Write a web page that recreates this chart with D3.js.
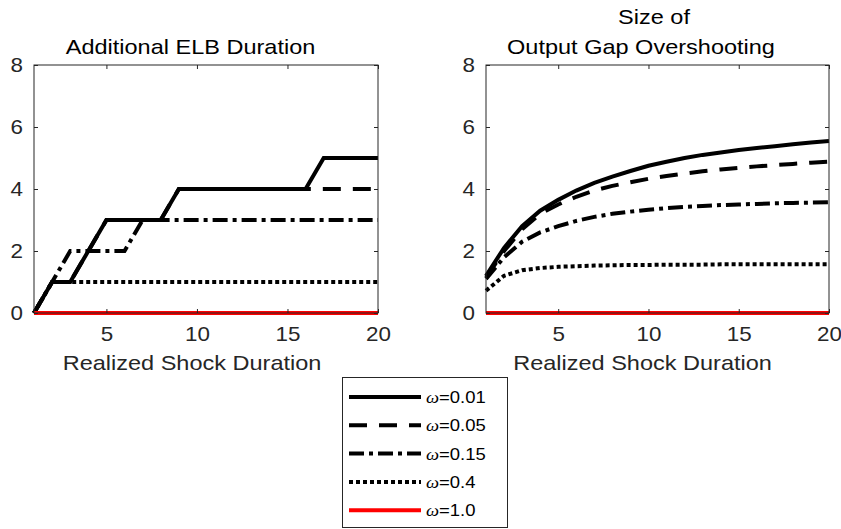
<!DOCTYPE html>
<html><head><meta charset="utf-8">
<script src="https://cdn.jsdelivr.net/npm/d3@7"></script>
<style>
body{margin:0;background:#fff;}
text{font-family:"Liberation Sans",Arial,Helvetica,sans-serif;fill:#262626;}
</style></head>
<body><svg id="c" width="841" height="529"></svg>
<script>
const xVals = d3.range(1, 21);
const omegaLabels = ["0.01", "0.05", "0.15", "0.4", "1.0"];
// Left panel: Additional ELB Duration
const elb001 = [0,1,1,2,3,3,3,3,4,4,4,4,4,4,4,4,5,5,5,5];
const elb005 = [0,1,1,2,3,3,3,3,4,4,4,4,4,4,4,4,4,4,4,4];
const elb015 = [0,1,2,2,2,2,3,3,3,3,3,3,3,3,3,3,3,3,3,3];
const elb04  = [0,1,1,1,1,1,1,1,1,1,1,1,1,1,1,1,1,1,1,1];
const elb10  = [0,0,0,0,0,0,0,0,0,0,0,0,0,0,0,0,0,0,0,0];
// Right panel: Size of Output Gap Overshooting
const gap001 = [1.2,2.1,2.8,3.3,3.65,3.95,4.2,4.4,4.58,4.75,4.88,5.0,5.1,5.18,5.26,5.32,5.38,5.44,5.5,5.55];
const gap005 = [1.15,2.0,2.7,3.2,3.5,3.75,3.95,4.1,4.22,4.33,4.42,4.5,4.57,4.63,4.68,4.73,4.77,4.81,4.85,4.88];
const gap015 = [1.1,1.8,2.3,2.6,2.8,2.97,3.1,3.2,3.27,3.33,3.38,3.42,3.45,3.48,3.5,3.52,3.54,3.55,3.56,3.57];
const gap04  = [0.72,1.2,1.38,1.45,1.49,1.51,1.53,1.54,1.55,1.55,1.56,1.56,1.56,1.57,1.57,1.57,1.57,1.57,1.57,1.57];
const gap10  = [0,0,0,0,0,0,0,0,0,0,0,0,0,0,0,0,0,0,0,0];
const xTicks = [5,10,15,20];
const yTicks = [0,2,4,6,8];

const styles = [
  {color:"#000", dash:null},
  {color:"#000", dash:"18,12"},
  {color:"#000", dash:"15,5,4,5"},
  {color:"#000", dash:"4,3"},
  {color:"#ff0000", dash:null}
];

const svg = d3.select("#c");
const axC = "#262626";
const SX = 1.12; // horizontal stretch of the reference's text

function stext(g, x, y, size, str, fill) {
  return g.append("text").attr("transform", `translate(${x},${y}) scale(${SX},1)`)
    .attr("text-anchor","middle").attr("font-size",size).style("fill",fill||"#000").text(str);
}

function panel(x0, x1, y0, y1, series, titleLines, xlabCx) {
  const x = d3.scaleLinear().domain([1,20]).range([x0,x1]);
  const y = d3.scaleLinear().domain([0,8]).range([y1,y0]);
  const g = svg.append("g");
  const line = d3.line().x((d,i)=>x(xVals[i])).y(d=>y(d));
  series.forEach((s,i)=>{
    const p = g.append("path").attr("d", line(s)).attr("fill","none")
      .attr("stroke", styles[i].color).attr("stroke-width", 4);
    if (styles[i].dash) p.attr("stroke-dasharray", styles[i].dash);
  });
  g.append("rect").attr("x",x0).attr("y",y0).attr("width",x1-x0).attr("height",y1-y0)
    .attr("fill","none").attr("stroke",axC).attr("stroke-width",1);
  const tl = 4;
  const xb = d3.axisBottom(x).tickValues(xTicks).tickSizeInner(-tl).tickSizeOuter(0).tickPadding(14);
  g.append("g").attr("transform",`translate(0,${y1})`).call(xb);
  const xt = d3.axisTop(x).tickValues(xTicks).tickSizeInner(-tl).tickSizeOuter(0).tickFormat("");
  g.append("g").attr("transform",`translate(0,${y0})`).call(xt);
  const yl = d3.axisLeft(y).tickValues(yTicks).tickSizeInner(-tl).tickSizeOuter(0).tickPadding(11);
  const yg = g.append("g").attr("transform",`translate(${x0},0)`).call(yl);
  const yr = d3.axisRight(y).tickValues(yTicks).tickSizeInner(-tl).tickSizeOuter(0).tickFormat("");
  g.append("g").attr("transform",`translate(${x1},0)`).call(yr);
  g.selectAll(".domain").remove();
  g.selectAll(".tick line").attr("stroke",axC);
  g.selectAll(".tick text").attr("font-size",20).attr("fill",axC)
    .style("font-family",'"Liberation Sans",Arial,sans-serif')
    .attr("transform",`scale(${SX},1)`);
  yg.selectAll(".tick text").attr("x", -11/SX);
  titleLines.forEach(t=> stext(g, t.cx, t.y, 21, t.text, "#000"));
  stext(g, xlabCx, 370, 21, "Realized Shock Duration", axC);
}

panel(34, 378, 65, 313, [elb001,elb005,elb015,elb04,elb10],
  [{text:"Additional ELB Duration", cx:190.5, y:54}], 192);
panel(486, 829, 65, 313, [gap001,gap005,gap015,gap04,gap10],
  [{text:"Size of", cx:654, y:24},{text:"Output Gap Overshooting", cx:641, y:54}], 642.5);

// legend
const lg = svg.append("g");
lg.append("rect").attr("x",342.5).attr("y",377.5).attr("width",165).attr("height",150)
  .attr("fill","#fff").attr("stroke",axC).attr("stroke-width",1);
omegaLabels.forEach((lab,i)=>{
  const yy = 397 + i*28.3;
  const p = lg.append("line").attr("x1",349).attr("x2",421).attr("y1",yy).attr("y2",yy)
    .attr("stroke",styles[i].color).attr("stroke-width",4);
  if (styles[i].dash) p.attr("stroke-dasharray", styles[i].dash);
  const t = lg.append("text").attr("transform",`translate(426,${yy+6}) scale(${SX},1)`)
    .attr("font-size",16.5).style("fill","#000");
  t.append("tspan").attr("font-style","italic").style("font-family",'"Liberation Serif","Times New Roman",serif').text("ω");
  t.append("tspan").text("=" + lab);
});
</script></body></html>
